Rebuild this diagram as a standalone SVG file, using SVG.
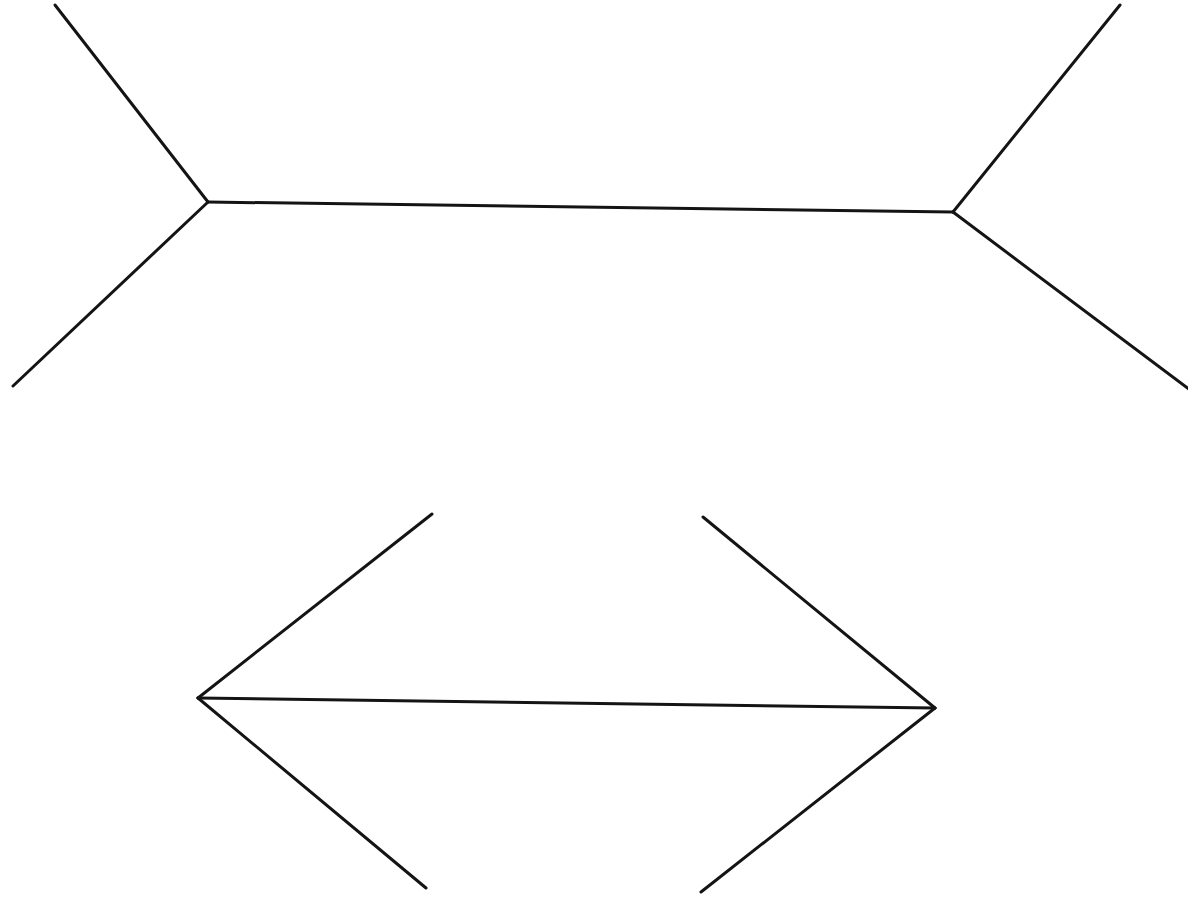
<svg xmlns="http://www.w3.org/2000/svg" width="1188" height="899" viewBox="0 0 1188 899">
<style>
.ln{stroke:#141414;stroke-width:3;stroke-linecap:round;fill:none}
</style>
<rect width="1188" height="899" fill="#ffffff"/>
<g id="top-figure" class="ln">
<line x1="55" y1="5" x2="208" y2="202"/>
<line x1="13" y1="386" x2="208" y2="202"/>
<line x1="208" y1="202" x2="953" y2="212"/>
<line x1="953" y1="212" x2="1120" y2="5"/>
<line x1="953" y1="212" x2="1190" y2="390"/>
</g>
<g id="bottom-figure" class="ln">
<line x1="198" y1="698" x2="432" y2="514"/>
<line x1="198" y1="698" x2="426" y2="888"/>
<line x1="198" y1="698" x2="935" y2="708"/>
<line x1="935" y1="708" x2="703" y2="517"/>
<line x1="935" y1="708" x2="701" y2="892"/>
</g>
</svg>
